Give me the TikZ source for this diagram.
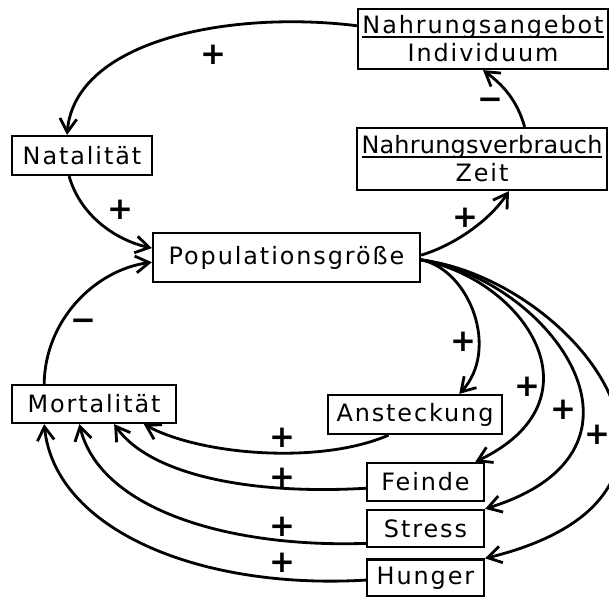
\documentclass[tikz,border=0pt]{standalone}
\usepackage{fontspec}
\setmainfont{DejaVu Sans}[LetterSpace=8]
\usepackage{tikz}
\usetikzlibrary{arrows.meta,calc,positioning}

\newcommand\bruchstrich[1]{\setbox0\hbox{#1}\rlap{\raisebox{-0.3ex}{\rule{\wd0}{1.4pt}}}\box0}

\begin{document}
\begin{tikzpicture}
[
	              x = 0.25mm,
	              y = -0.25mm,
	  line width = 2pt,
	           ->, >= {Straight Barb[length=3.4mm,width=4.2mm,line width=2pt]},
	   box/.style = { draw=black, -, line width=1.6pt, rectangle, inner sep=0pt, font=\fontsize{17}{20}\selectfont, align=center },
	  sign/.style = { draw=none, fill=none, font=\fontsize{22}{22}\selectfont\bfseries }
]

    \useasboundingbox (0,0) rectangle (609,597);

    \node (Angebot)   at (483,  39) [box, minimum width=62.5mm, minimum height=15mm]   {\bruchstrich{Nahrungsangebot}\\Individuum};
    \node (Verbrauch) at (482, 159) [box, minimum width=62.5mm, minimum height=15.5mm] {\bruchstrich{\addfontfeatures{LetterSpace=1}Nahrungsverbrauch}\\Zeit};
    \node (Natal)     at ( 82, 155.5) [box, minimum width=35mm, minimum height=9.75mm] {Natalität};
    \node (Pop)       at (286.5, 257.5) [box, minimum width=66.75mm, minimum height=12.25mm] {Populationsgröße};
    \node (Mort)      at ( 94, 404) [box, minimum width=41mm, minimum height=9.5mm]    {Mortalität};
    \node (Anst)      at (415, 414.5) [box, minimum width=43.5mm, minimum height=9.75mm] {Ansteckung};
    \node (Feinde)    at (425.5, 482) [box, minimum width=29.25mm, minimum height=9.5mm] {Feinde};
    \node (Stress)    at (425.5, 528.5) [box, minimum width=29.25mm, minimum height=9.25mm] {Stress};
    \node (Hunger)    at (425.5, 578) [box, minimum width=29.25mm, minimum height=9.25mm] {Hunger};

    \node (SignTop)       at (213,  55) [sign] {+};
    \node (SignNatal)     at (120, 210) [sign] {+};
    \node (SignVerbrauch) at (465, 218) [sign] {+};
    \node (SignAngebot)   at (490, 104) [sign] {−};
    \node (SignMort)      at ( 83, 325) [sign] {−};
    \node (SignAnst)      at (463, 342) [sign] {+};
    \node (SignFeinde)    at (527, 387) [sign] {+};
    \node (SignStress)    at (563, 410) [sign] {+};
    \node (SignHunger)    at (597, 435) [sign] {+};
    \node (SignAnstM)     at (282, 438) [sign] {+};
    \node (SignFeindeM)   at (282, 478) [sign] {+};
    \node (SignStressM)   at (282, 527) [sign] {+};
    \node (SignHungerM)   at (282, 563) [sign] {+};

    \draw (Angebot.174) .. controls (230,10) and (75,40) .. (Natal.126);
    \draw (Natal.238) .. controls (80,215) and (115,240) .. (Pop.176);
    \draw (Mort.158) .. controls (45,320) and (95,270) .. (Pop.182);
    \draw (Pop.1) .. controls (455,245) and (490,220) .. (Verbrauch.-50);
    \draw (Verbrauch.37) .. controls (517,100) and (503,85) .. (Angebot.south);

    \draw (Pop.-1) .. controls (470,270) and (500,350) .. (Anst.25);
    \draw (Pop.-1) .. controls (525,280) and (605,400) .. (Feinde.22);
    \draw (Pop.-1) .. controls (550,280) and (675,450) .. (Stress.north east);
    \draw (Pop.-1) .. controls (575,280) and (745,495) .. (Hunger.north east);

    \draw (Anst.218) .. controls (320,465) and (200,455) .. (Mort.-22);
    \draw (Feinde.186) .. controls (250,495) and (150,475) .. (Mort.-45);
    \draw (Stress.194) .. controls (230,548) and (100,510) .. (Mort.234);
    \draw (Hunger.182) .. controls (200,590) and (55,530) .. (Mort.202);

\end{tikzpicture}
\end{document}
